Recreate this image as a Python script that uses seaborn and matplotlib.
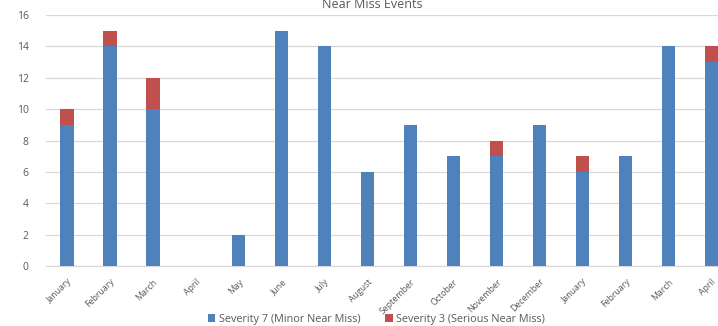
import matplotlib
matplotlib.use("Agg")
import matplotlib.pyplot as plt
import seaborn as sns
import pandas as pd

months = ["January", "February", "March", "April", "May", "June", "July",
          "August", "September", "October", "November", "December",
          "January", "February", "March", "April"]
minor = [9, 14, 10, 0, 2, 15, 14, 6, 9, 7, 7, 9, 6, 7, 14, 13]
serious = [1, 1, 2, 0, 0, 0, 0, 0, 0, 0, 1, 0, 1, 0, 0, 1]
y_ticks = [0, 2, 4, 6, 8, 10, 12, 14, 16]

BLUE = "#4F81BD"
RED = "#C0504D"
TEXT = "#595959"
GRID = "#D9D9D9"

sns.set_theme(style="white")
plt.rcParams["font.family"] = ["Open Sans", "DejaVu Sans"]

df = pd.DataFrame({
    "slot": list(range(len(months))),
    "minor": minor,
    "total": [m + s for m, s in zip(minor, serious)],
})

fig = plt.figure(figsize=(7.18, 3.26), dpi=100)
ax = fig.add_axes([0.0634, 0.184, 0.957, 0.770])

# stacked bars: the full total in red, the minor part drawn over it in blue
sns.barplot(data=df, x="slot", y="total", color=RED, width=0.31,
            saturation=1, ax=ax, zorder=3, linewidth=0,
            label="Severity 3 (Serious Near Miss)")
sns.barplot(data=df, x="slot", y="minor", color=BLUE, width=0.31,
            saturation=1, ax=ax, zorder=4, linewidth=0,
            label="Severity 7 (Minor Near Miss)")
if ax.get_legend() is not None:
    ax.get_legend().remove()

ax.set_ylim(0, 16)
ax.set_xlim(-0.5, len(months) - 0.5)
ax.set_yticks(y_ticks)
ax.set_yticklabels([str(v) for v in y_ticks], fontsize=7.5, color=TEXT)
ax.set_xticks(range(len(months)))
ax.set_xticklabels(months, rotation=45, ha="right", rotation_mode="anchor",
                   fontsize=6.3, color=TEXT)
ax.tick_params(axis="both", length=0)
ax.tick_params(axis="x", pad=8)
ax.tick_params(axis="y", pad=12)
ax.set_xlabel("")
ax.set_ylabel("")

ax.yaxis.grid(True, color=GRID, linewidth=0.9, zorder=0)
ax.set_axisbelow(True)
for side in ["top", "right", "left"]:
    ax.spines[side].set_visible(False)
ax.spines["bottom"].set_color(GRID)
ax.spines["bottom"].set_linewidth(0.9)

fig.text(0.518, 0.974, "Near Miss Events", ha="center", va="baseline",
         fontsize=9, color=TEXT)

handles, labels = ax.get_legend_handles_labels()
order = [labels.index("Severity 7 (Minor Near Miss)"),
         labels.index("Severity 3 (Serious Near Miss)")]
fig.legend([handles[i] for i in order], [labels[i] for i in order],
           loc="center", bbox_to_anchor=(0.524, 0.021), ncol=2, frameon=False,
           fontsize=7.8, labelcolor=TEXT, handlelength=0.7, handleheight=0.7,
           handletextpad=0.3, columnspacing=2.3)

fig.savefig("out.png", dpi=100)
